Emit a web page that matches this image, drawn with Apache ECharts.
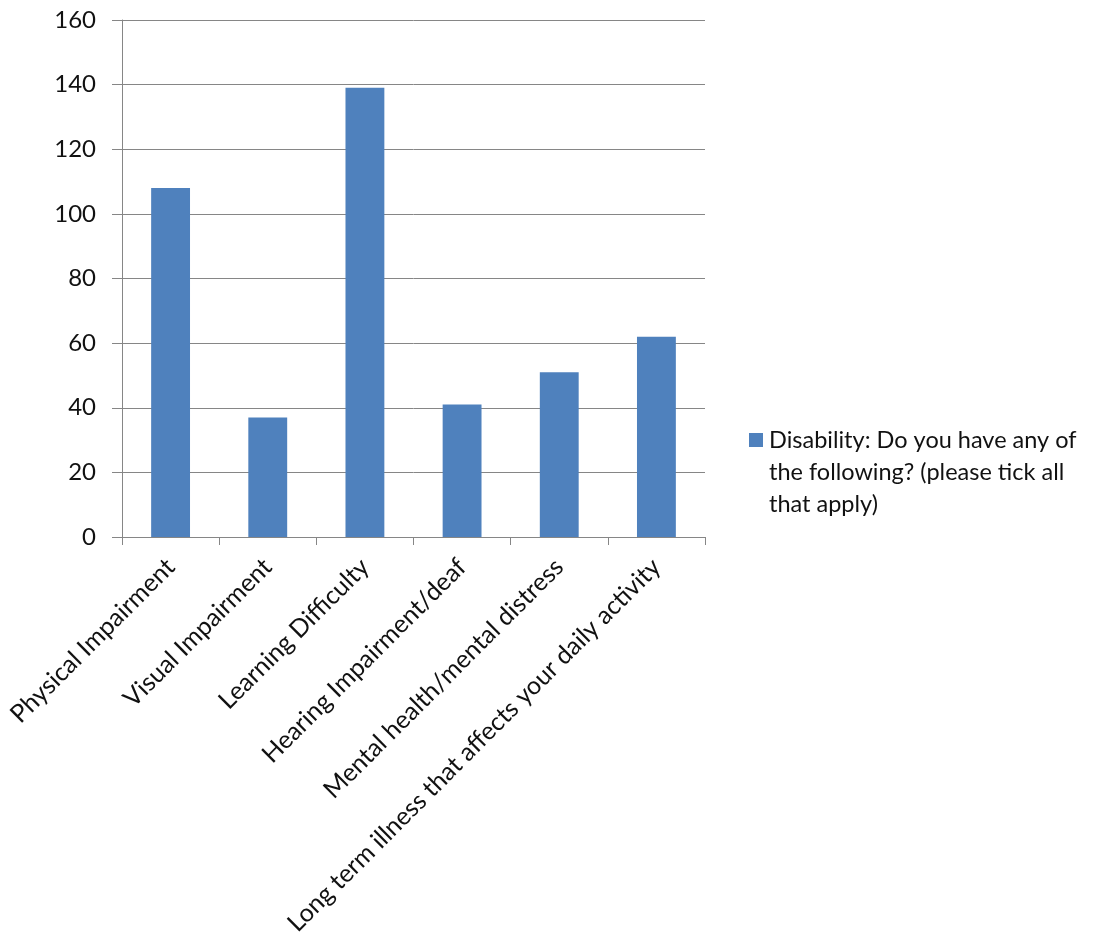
<!DOCTYPE html>
<html><head><meta charset="utf-8">
<script src="https://cdn.jsdelivr.net/npm/echarts@6/dist/echarts.min.js"></script>
<style>html,body{margin:0;padding:0;background:#fff}#c{width:1094px;height:935px}</style>
</head><body><div id="c"></div>
<script>
const categories = ["Physical Impairment","Visual Impairment","Learning Difficulty","Hearing Impairment/deaf","Mental health/mental distress","Long term illness that affects your daily activity"];
const values = [108, 37, 139, 41, 51, 62];
const seriesName = "Disability: Do you have any of the following? (please tick all that apply)";
const legendLines = ["Disability: Do you have any of", "the following? (please tick all", "that apply)"];
const FONT = "Lato";
const BAR = '#4F81BD';
const chart = echarts.init(document.getElementById('c'));
chart.setOption({
  animation: false,
  grid: {left: 122, right: 389, top: 20, bottom: 398, containLabel: false, outerBoundsMode: 'none'},
  xAxis: {
    type: 'category', data: categories,
    axisLine: {lineStyle: {color: '#868686', width: 1}},
    axisTick: {show: true, length: 8, lineStyle: {color: '#868686'}},
    axisLabel: {rotate: 45, interval: 0, color: '#111', fontFamily: FONT, fontSize: 25, margin: 26}
  },
  yAxis: {
    type: 'value', min: 0, max: 160, interval: 20,
    axisLine: {show: true, lineStyle: {color: '#868686'}},
    axisTick: {show: true, length: 10, inside: false, lineStyle: {color: '#868686'}},
    splitLine: {lineStyle: {color: '#868686', width: 1}},
    axisLabel: {color: '#111', fontFamily: FONT, fontSize: 24, margin: 26}
  },
  legend: {
    orient: 'vertical', left: 744, top: 424, padding: 0,
    itemWidth: 0, itemHeight: 0, itemGap: 0,
    icon: 'none',
    formatter: () => '{sq|}{t|' + legendLines[0] + '}\n{ind|' + legendLines[1] + '}\n{ind|' + legendLines[2] + '}',
    textStyle: {
      color: '#111', fontFamily: FONT, fontSize: 23.5, lineHeight: 32, padding: 0,
      rich: {
        sq: {backgroundColor: BAR, width: 14, height: 14},
        t: {fontFamily: FONT, fontSize: 23.5, lineHeight: 32, padding: [0, 0, 0, 6], color: '#111'},
        ind: {fontFamily: FONT, fontSize: 23.5, lineHeight: 32, padding: [0, 0, 0, 20], color: '#111'}
      }
    }
  },
  series: [{
    name: seriesName, type: 'bar', data: values, barWidth: '40%',
    itemStyle: {color: BAR}
  }]
});
</script></body></html>
